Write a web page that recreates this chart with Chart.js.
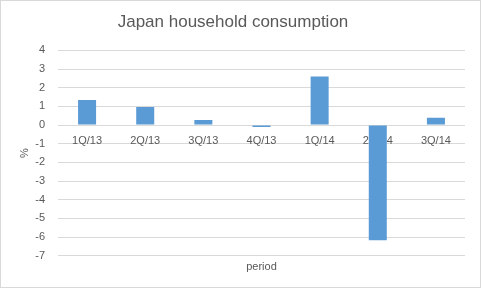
<!DOCTYPE html>
<html>
<head>
<meta charset="utf-8">
<script src="https://cdn.jsdelivr.net/npm/chart.js@4"></script>
<style>
  html, body { margin: 0; padding: 0; background: #fff; }
  #wrap {
    width: 481px; height: 288px; box-sizing: border-box;
    border: 1px solid #d9d9d9; position: relative;
  }
</style>
</head>
<body>
<div id="wrap"><canvas id="chart"></canvas></div>
<script>
// quarterly change in household consumption, %
const periods = ['1Q/13', '2Q/13', '3Q/13', '4Q/13', '1Q/14', '2Q/14', '3Q/14'];
const consumption = [1.35, 0.97, 0.27, -0.1, 2.6, -6.17, 0.39];
const yMin = -7;
const yMax = 4;

const textColor = '#595959';
const gridColor = '#d9d9d9';
const fontFamily = "'Liberation Sans', Arial, sans-serif";

new Chart(document.getElementById('chart'), {
    type: 'bar',
    data: {
        labels: periods,
        datasets: [{
            data: consumption,
            backgroundColor: '#5b9bd5',
            barPercentage: 0.62,
            categoryPercentage: 0.5,
            xAxisID: 'x',
            yAxisID: 'y',
        }]
    },
    options: {
        responsive: true,
        maintainAspectRatio: false,
        animation: false,
        layout: { padding: { left: 0, right: 15, top: 0, bottom: 10 } },
        plugins: {
            legend: { display: false },
            tooltip: { enabled: false },
            title: {
                display: true,
                text: 'Japan household consumption',
                color: textColor,
                font: { family: fontFamily, size: 17, weight: 'normal' },
                padding: { top: 11, bottom: 18 },
            },
        },
        scales: {
            x: {
                position: { y: 0 },
                z: -1,
                grid: { display: false },
                border: { display: false },
                ticks: {
                    color: textColor,
                    font: { family: fontFamily, size: 11 },
                    padding: 1,
                    maxRotation: 0,
                },
            },
            // bottom axis only carries the "period" title
            xTitle: {
                type: 'category',
                labels: periods,
                position: 'bottom',
                grid: { display: false },
                border: { display: false },
                ticks: { display: false },
                title: {
                    display: true,
                    text: 'period',
                    color: textColor,
                    font: { family: fontFamily, size: 11 },
                    padding: { top: -3, bottom: 3 },
                },
            },
            y: {
                min: yMin,
                max: yMax,
                grid: { color: gridColor, drawTicks: false },
                border: { display: false },
                ticks: {
                    stepSize: 1,
                    color: textColor,
                    font: { family: fontFamily, size: 11 },
                    padding: 13,
                },
                title: {
                    display: true,
                    text: '%',
                    color: textColor,
                    font: { family: fontFamily, size: 11 },
                    padding: { top: 17, bottom: 0 },
                },
                afterFit: (scale) => { scale.width = 57; },
            },
        },
    },
});
</script>
</body>
</html>
